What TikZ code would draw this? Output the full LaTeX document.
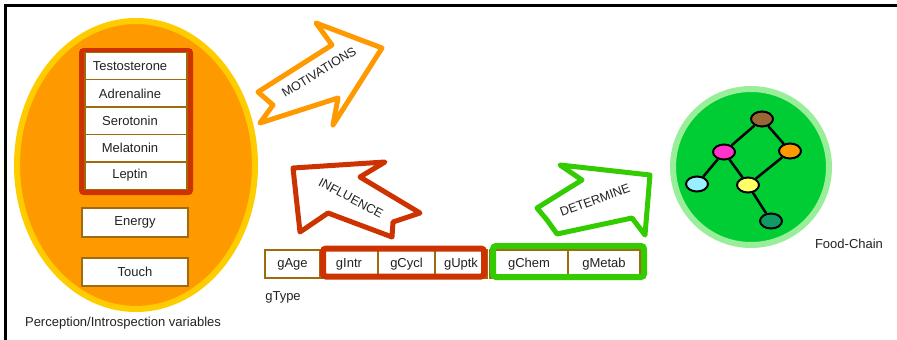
\documentclass[tikz,border=0pt]{standalone}
\usepackage{fontspec}
\setmainfont{Liberation Sans}
\usetikzlibrary{shapes.geometric}
\definecolor{txt}{HTML}{222222}
\definecolor{orng}{HTML}{FF9900}
\definecolor{gold}{HTML}{FFCC00}
\definecolor{rust}{HTML}{CC3300}
\definecolor{lime}{HTML}{33CC00}
\definecolor{cellline}{HTML}{A06A10}
\definecolor{leaf}{HTML}{00CC33}
\definecolor{paleleaf}{HTML}{99EE99}
\tikzset{
  every node/.style={text=txt, font=\fontsize{13}{15}\selectfont},
  cell/.style={draw=cellline, line width=1.5pt, fill=white, minimum height=28pt, inner sep=0pt},
  hcell/.style={cell, minimum width=102pt, minimum height=27.4pt,
    execute at begin node={\hspace*{-12pt}}},
  bigarrow/.style={line width=5pt, line join=round, fill=white},
  arrowtext/.style={font=\fontsize{12.5}{14}\selectfont},
  fcnode/.style={ellipse, draw=black, line width=2pt, minimum width=22pt, minimum height=15pt, inner sep=0pt},
  fcedge/.style={line width=2.5pt, black}
}
\begin{document}
\begin{tikzpicture}[x=1pt, y=-1pt]
\useasboundingbox (0,0) rectangle (897,340);
% frame lines
\draw[line width=2.5pt] (5.5,340) -- (5.5,5.5) -- (897,5.5);

% perception / introspection ellipse
\draw[draw=gold, fill=orng, line width=6pt] (136,165) ellipse [x radius=119, y radius=144];
\draw[draw=rust, fill=rust, line width=6pt, rounded corners=2pt] (82,51) rectangle (190,192);
\node[hcell] (testo) at (136,66) {Testosterone};
\node[hcell] (adren) at (136,93.4) {Adrenaline};
\node[hcell] (sero) at (136,120.8) {Serotonin};
\node[hcell] (mela) at (136,148.2) {Melatonin};
\node[hcell] (lept) at (136,175.6) {Leptin};
\node[cell, minimum width=106pt, minimum height=29pt] (energy) at (135,222.5) {Energy};
\node[cell, minimum width=106pt, minimum height=28pt] (touch) at (135,272) {Touch};
\node (perclabel) at (123,323) {Perception/Introspection variables};

% gType row
\node[cell, minimum width=55pt] (gage) at (292.5,264) {gAge};
\node[cell, minimum width=58pt] (gintr) at (349,264) {gIntr};
\node[cell, minimum width=57pt] (gcycl) at (406.5,264) {gCycl};
\node[cell, minimum width=52pt] (guptk) at (461,264) {gUptk};
\node[cell, minimum width=78pt] (gchem) at (529,264) {gChem};
\node[cell, minimum width=72pt] (gmetab) at (604,264) {gMetab};
\node (gtype) at (283,297) {gType};
\draw[rust, line width=6pt, rounded corners=3pt] (323,248.5) rectangle (484,276.5);
\draw[lime, line width=6pt, rounded corners=3pt] (493,246) rectangle (644,277);

% MOTIVATIONS arrow
\draw[bigarrow, draw=orng] (258,92) -- (332,45) -- (316,23) -- (382,48) -- (333,125)
  -- (338,98) -- (260,123) -- (273,105) -- cycle;
\node[arrowtext, rotate=31] (motiv) at (319,72) {MOTIVATIONS};

% INFLUENCE arrow
\draw[bigarrow, draw=rust] (293,168) -- (385,162) -- (360,177) -- (420,213) -- (393,222)
  -- (392,237) -- (328,213) -- (300,232) -- cycle;
\node[arrowtext, rotate=-28] (influ) at (351,198) {INFLUENCE};

% DETERMINE arrow
\draw[bigarrow, draw=lime] (650,175) -- (645,235) -- (632,218) -- (557,234) -- (547,220)
  -- (537,208) -- (582,180) -- (560,165) -- cycle;
\node[arrowtext, rotate=20] (determ) at (595,200) {DETERMINE};

% food chain
\draw[draw=paleleaf, fill=leaf, line width=6pt] (751,167) circle [radius=78];
\node[fcnode, fill={rgb,255:red,153;green,102;blue,51}] (fbrown) at (762,119) {};
\node[fcnode, fill={rgb,255:red,255;green,51;blue,204}] (fmag) at (724,152) {};
\node[fcnode, fill=orng] (forange) at (790,151) {};
\node[fcnode, fill={rgb,255:red,153;green,238;blue,255}] (fcyan) at (697,184) {};
\node[fcnode, fill={rgb,255:red,255;green,255;blue,102}] (fyellow) at (748,185) {};
\node[fcnode, fill={rgb,255:red,17;green,153;blue,102}] (fteal) at (771,221) {};
\draw[fcedge] (fbrown) -- (fmag);
\draw[fcedge] (fbrown) -- (forange);
\draw[fcedge] (fmag) -- (fcyan);
\draw[fcedge] (fmag) -- (fyellow);
\draw[fcedge] (forange) -- (fyellow);
\draw[fcedge] (fyellow) -- (fteal);
\node (fclabel) at (849,244) {Food-Chain};
\end{tikzpicture}
\end{document}
